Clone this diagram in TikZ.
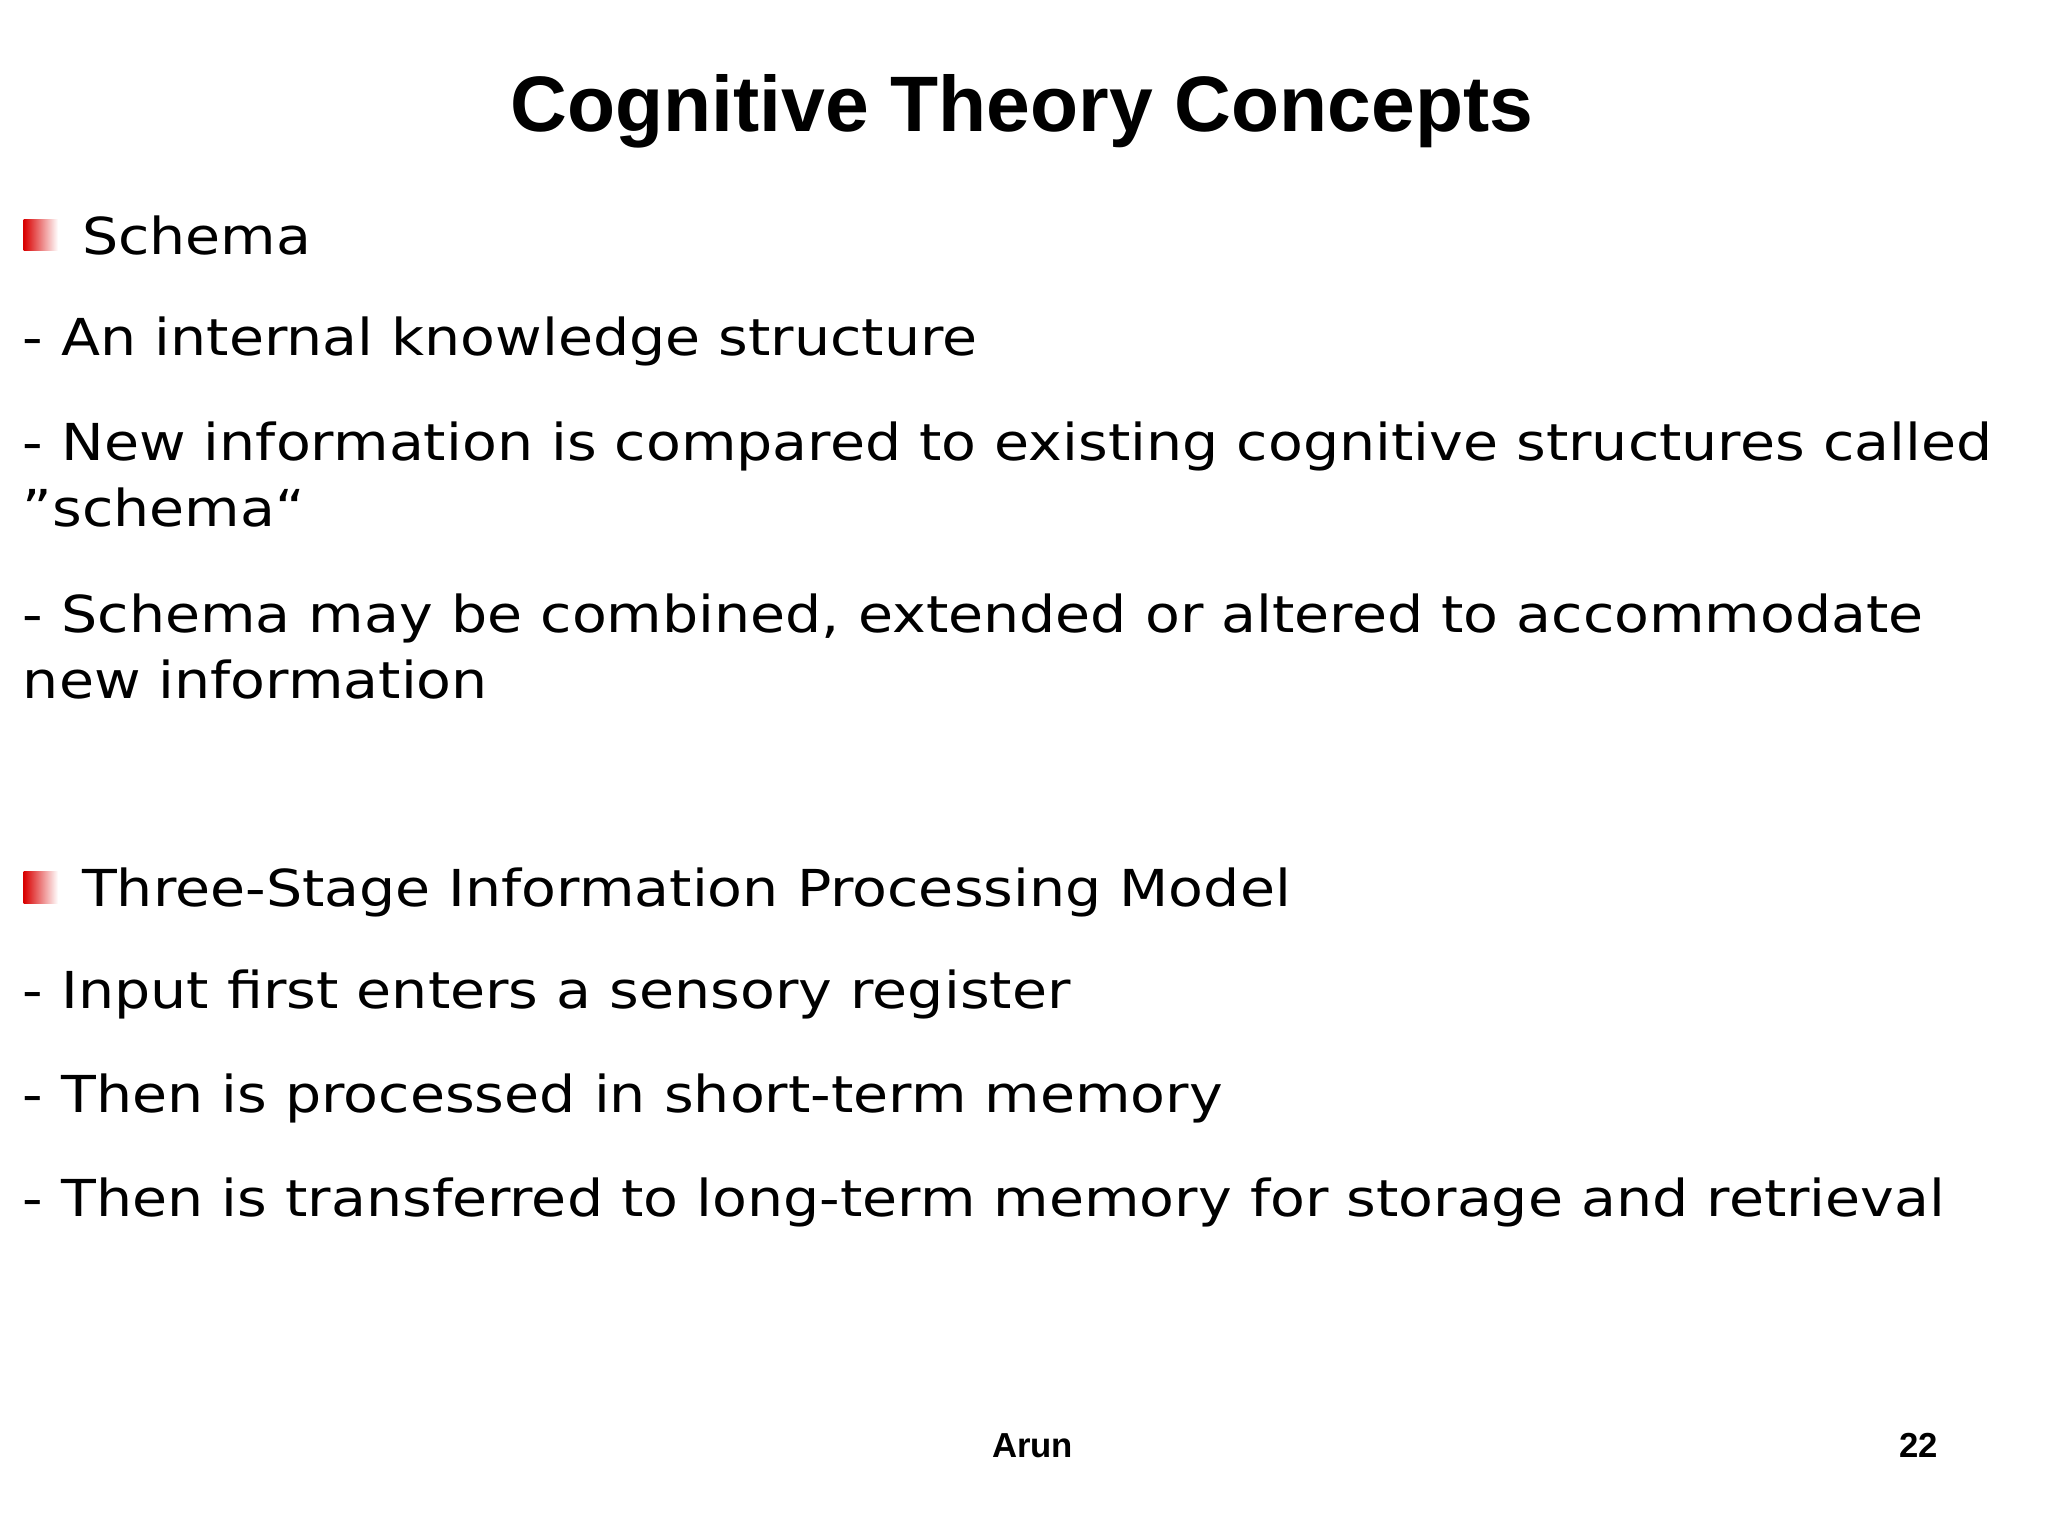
\documentclass[tikz,border=0pt]{standalone}
\usepackage{fontspec}
\setmainfont[FakeStretch=1.12]{DejaVu Sans}
\newfontfamily\arialb[BoldFont={Liberation Sans Bold}]{Liberation Sans}
\begin{document}
\begin{tikzpicture}[x=0.02cm,y=-0.02cm,
  body/.style={anchor=base west,inner sep=0,font=\fontsize{22}{26}\selectfont},
  bul/.style={left color=red!85!black,right color=white,draw=none}]
\useasboundingbox (0,0) rectangle (1555,1166);
\node[anchor=base,inner sep=0,font=\arialb\bfseries\fontsize{34}{38}\selectfont] (title) at (776,100) {Cognitive Theory Concepts};
\fill[bul] (18,167) rectangle (44,190);
\node[body] (s) at (62,193) {Schema};
\node[body] (a) at (17,270) {- An internal knowledge structure};
\node[body] (b) at (17,350) {- New information is compared to existing cognitive structures called};
\node[body] (b2) at (17,400) {\symbol{34}schema“};
\node[body] (c) at (17,480) {- Schema may be combined, extended or altered to accommodate};
\node[body] (c2) at (17,530) {new information};
\fill[bul] (18,662) rectangle (44,686);
\node[body] (t) at (62,688) {Three-Stage Information Processing Model};
\node[body] (d) at (17,766) {- Input first enters a sensory register};
\node[body] (e) at (17,845) {- Then is processed in short-term memory};
\node[body] (f) at (17,924) {- Then is transferred to long-term memory for storage and retrieval};
\node[anchor=base,inner sep=0,font=\arialb\bfseries\fontsize{15}{18}\selectfont] (arun) at (784,1107) {Arun};
\node[anchor=base,inner sep=0,font=\arialb\bfseries\fontsize{15}{18}\selectfont] (pg) at (1457,1107) {22};
\end{tikzpicture}
\end{document}
